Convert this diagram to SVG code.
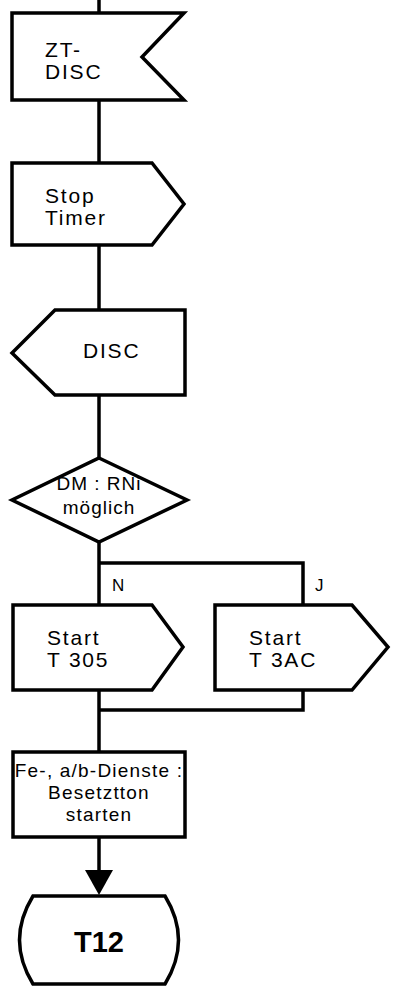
<svg xmlns="http://www.w3.org/2000/svg" width="396" height="989" viewBox="0 0 396 989">
<style>
.s{fill:#fff;stroke:#000;stroke-width:3.5;stroke-linejoin:miter}
.c{fill:none;stroke:#000;stroke-width:3.5}
.t{font-family:"Liberation Sans",Arial,sans-serif;font-size:21px;letter-spacing:1.8px;fill:#000}
.d{font-family:"Liberation Sans",Arial,sans-serif;font-size:19px;letter-spacing:1px;fill:#000}
.m{font-family:"Liberation Sans",Arial,sans-serif;font-size:19px;letter-spacing:1.2px;fill:#000}
.l{font-family:"Liberation Sans",Arial,sans-serif;font-size:17px;fill:#000}
.b{font-family:"Liberation Sans",Arial,sans-serif;font-size:29px;font-weight:bold;fill:#000}
</style>
<g id="connectors">
<line class="c" x1="99" y1="0" x2="99" y2="13"/>
<line class="c" x1="99" y1="100" x2="99" y2="163"/>
<line class="c" x1="99" y1="245" x2="99" y2="310"/>
<line class="c" x1="99" y1="395" x2="99" y2="458"/>
<polyline class="c" points="99,542 99,605"/>
<polyline class="c" points="99,563 303,563 303,605"/>
<polyline class="c" points="99,690 99,752"/>
<polyline class="c" points="303,690 303,710 99,710"/>
<line class="c" x1="99" y1="837" x2="99" y2="872"/>
<path d="M85,870 L113,870 L99,895 z" fill="#000"/>
<text class="l" x="112" y="591">N</text>
<text class="l" x="315" y="591">J</text>
</g>
<g id="zt-disc">
<path class="s" d="M12,13 L184,13 L142,57 L184,100 L12,100 z"/>
<text class="t" x="45" y="57">ZT-</text>
<text class="t" x="45" y="79">DISC</text>
</g>
<g id="stop-timer">
<path class="s" d="M12,163 L152,163 L184,204 L152,245 L12,245 z"/>
<text class="t" x="45" y="203">Stop</text>
<text class="t" x="45" y="225">Timer</text>
</g>
<g id="disc">
<path class="s" d="M55,310 L185,310 L185,395 L55,395 L12,353 z"/>
<text class="t" x="83" y="358">DISC</text>
</g>
<g id="decision">
<path class="s" d="M99,458 L187,500 L99,542 L12,500 z"/>
<text class="d" x="99" y="490" text-anchor="middle">DM : RNi</text>
<text class="d" x="99" y="514" text-anchor="middle">möglich</text>
</g>
<g id="start-t305">
<path class="s" d="M13,605 L152,605 L183,647 L152,690 L13,690 z"/>
<text class="t" x="47" y="645">Start</text>
<text class="t" x="47" y="667">T 305</text>
</g>
<g id="start-t3ac">
<path class="s" d="M215,605 L352,605 L388,647 L352,690 L215,690 z"/>
<text class="t" x="249" y="645">Start</text>
<text class="t" x="249" y="667">T 3AC</text>
</g>
<g id="besetztton">
<rect class="s" x="13" y="752" width="172" height="85"/>
<text class="m" x="99" y="777" text-anchor="middle">Fe-, a/b-Dienste :</text>
<text class="m" x="99" y="799" text-anchor="middle">Besetztton</text>
<text class="m" x="99" y="821" text-anchor="middle">starten</text>
</g>
<g id="t12">
<path class="s" d="M33,896 L165,896 Q192,940 165,984 L33,984 Q6,940 33,896 z"/>
<text class="b" x="99" y="952" text-anchor="middle">T12</text>
</g>
</svg>
